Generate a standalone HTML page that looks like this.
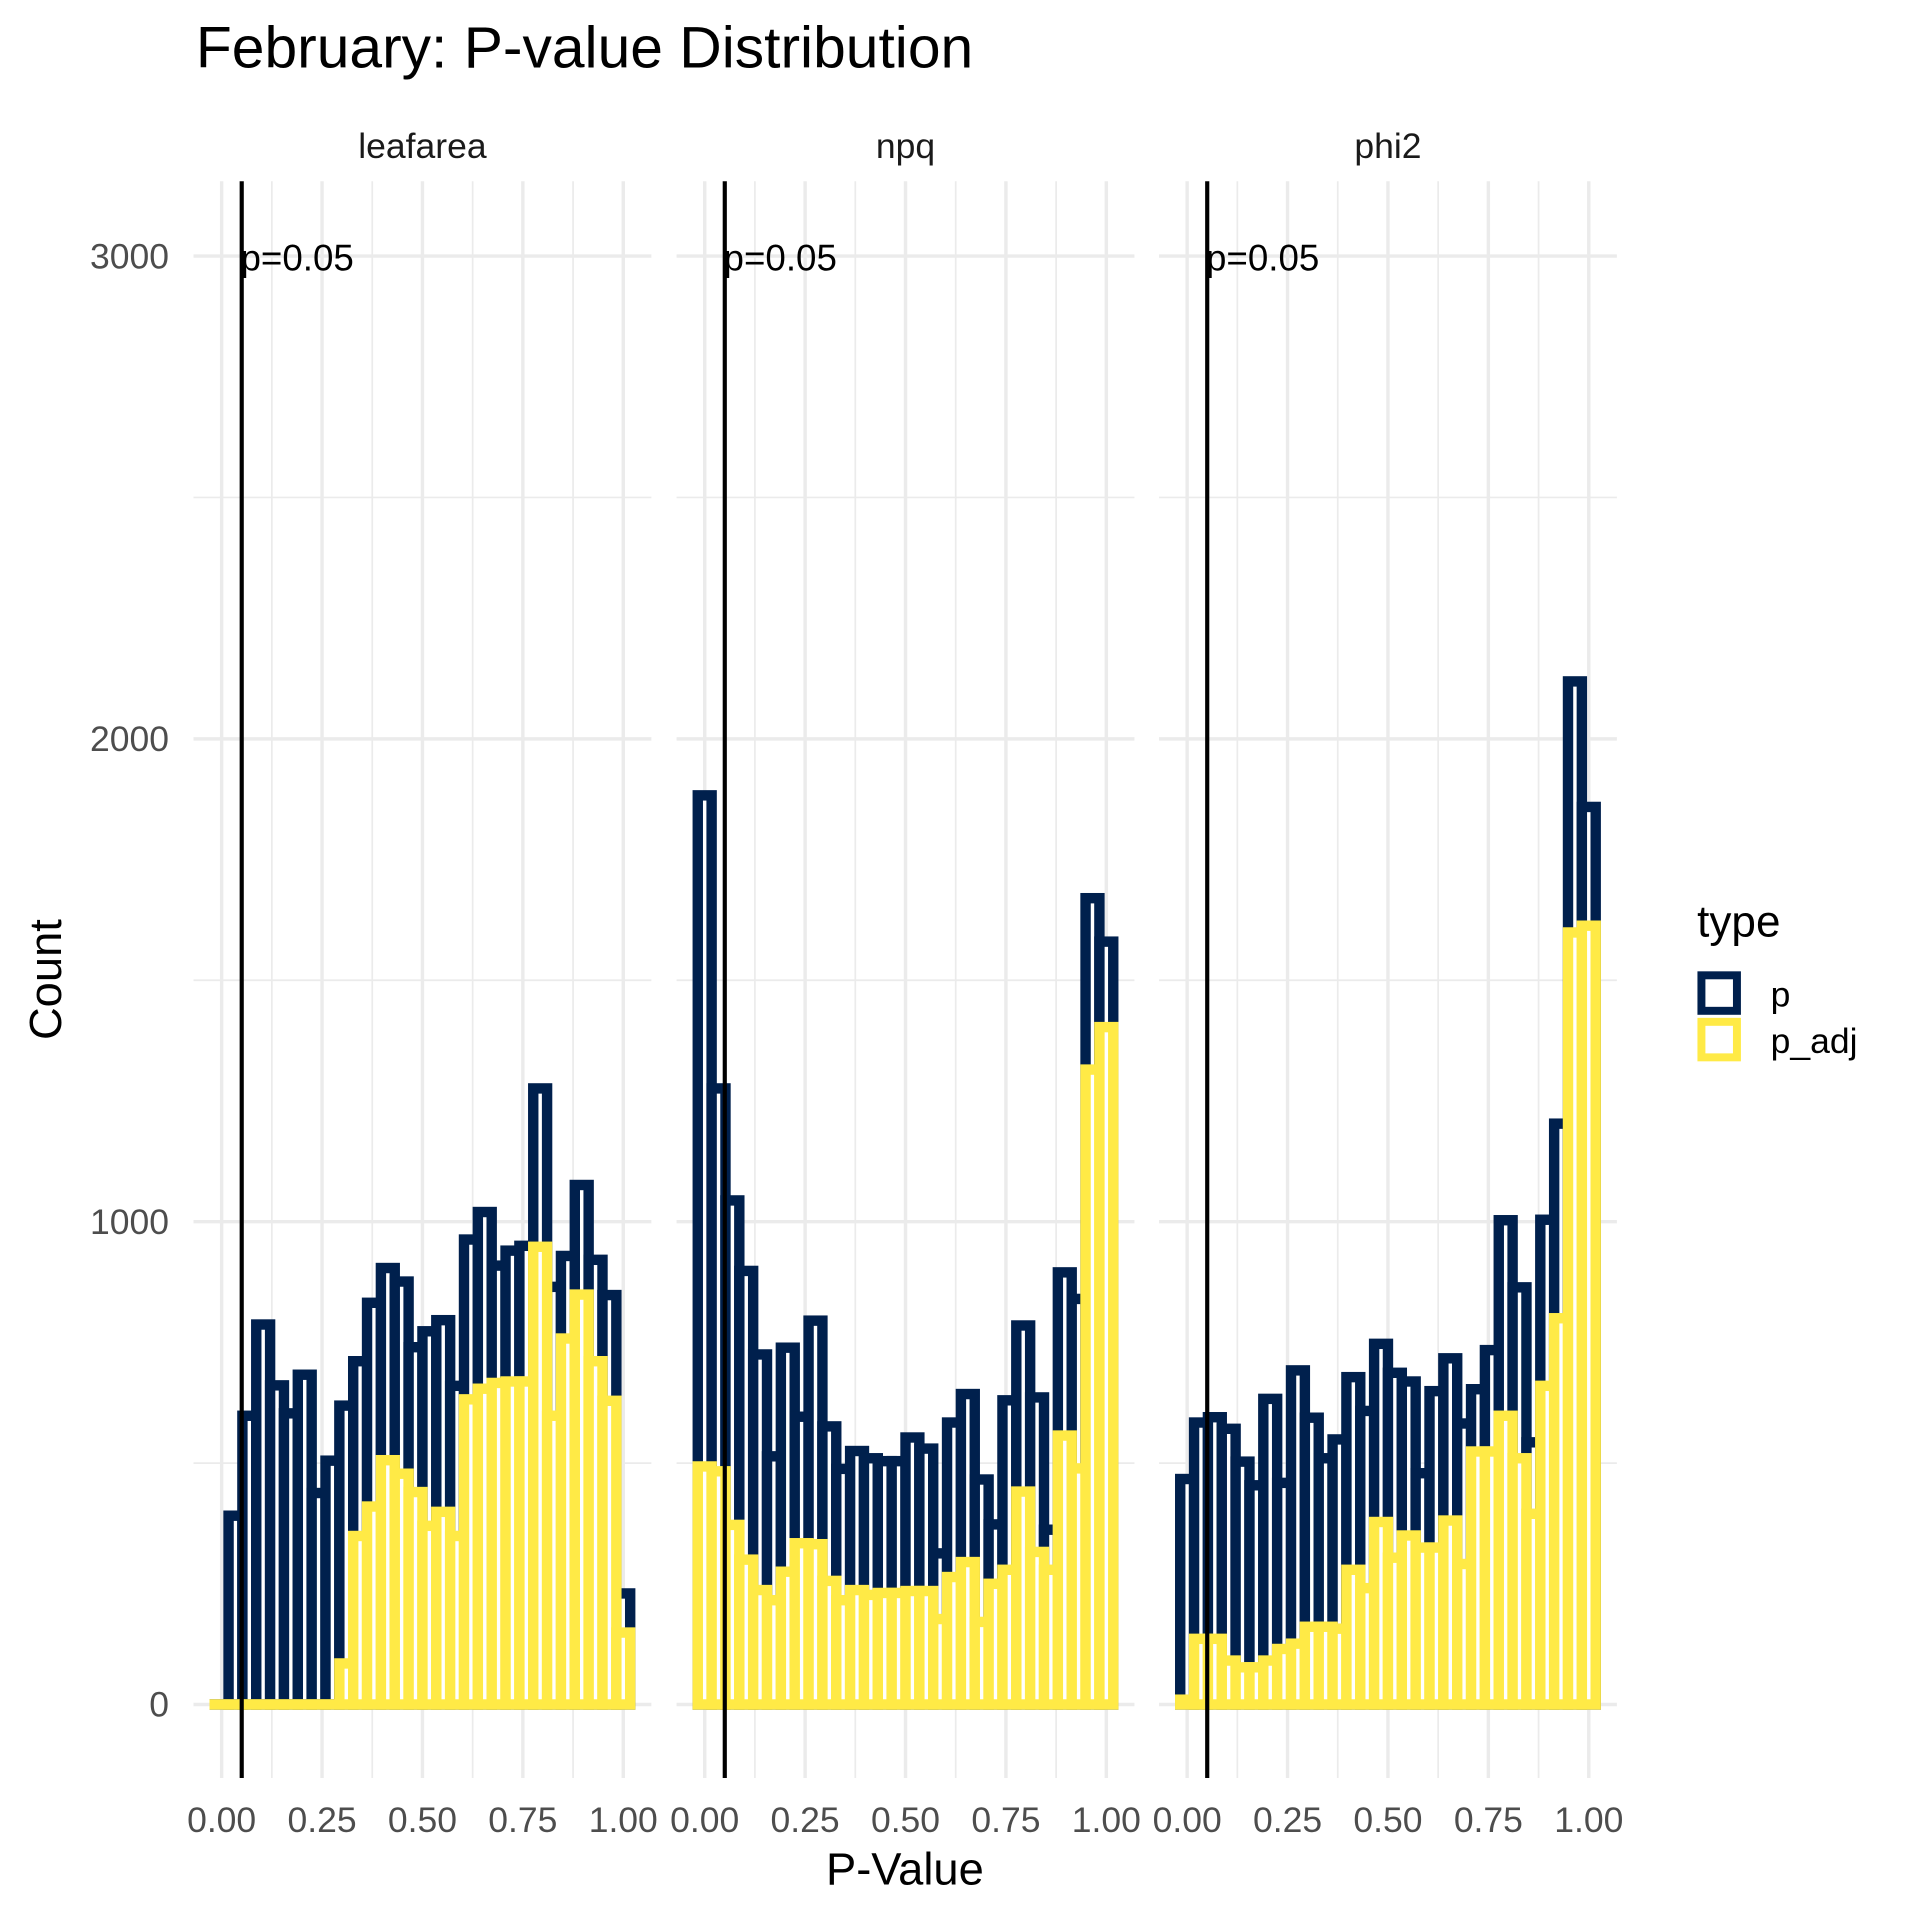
<!DOCTYPE html>
<html><head><meta charset="utf-8"><title>February: P-value Distribution</title>
<style>
html,body{margin:0;padding:0;background:#fff;}
svg{display:block;font-family:"Liberation Sans",sans-serif;}
</style></head>
<body>
<svg id="chart" width="1920" height="1920" viewBox="0 0 1568 1568" xmlns="http://www.w3.org/2000/svg">
<rect x="0" y="0" width="1568" height="1568" fill="#fff"/>
<text x="160" y="55" font-size="48" fill="#000">February: P-value Distribution</text>
<g id="grid"></g>
<g id="barsP"></g>
<g id="barsAdj"></g>
<g id="annot"></g>
<g id="axes"></g>
<text x="739" y="1539" font-size="37" text-anchor="middle" fill="#000">P-Value</text>
<text transform="translate(50,800) rotate(-90)" font-size="37" text-anchor="middle" fill="#000">Count</text>
<g>
<text x="1386" y="765" font-size="36" fill="#000">type</text>
<rect x="1389.5" y="796.5" width="29" height="29" fill="#fff" stroke="#00204D" stroke-width="6.5"/>
<text x="1446" y="822" font-size="29" fill="#000">p</text>
<rect x="1389.5" y="834.5" width="29" height="29" fill="#fff" stroke="#FFEA46" stroke-width="6.5"/>
<text x="1446" y="860" font-size="29" fill="#000">p_adj</text>
</g>
</svg>
<script>
const panels = ["leafarea", "npq", "phi2"];
const leafareaP = [0,391,598,787,661,603,683,438,505,619,711,832,904,876,740,773,796,660,963,1020,909,940,950,1276,865,929,1076,921,848,230];
const leafareaAdj = [0,0,0,0,0,0,0,0,0,85,349,410,506,478,440,370,399,349,632,654,666,669,669,948,598,758,849,711,629,149];
const npqP = [1883,1276,1044,898,725,514,739,596,795,576,488,525,510,504,504,553,530,313,584,643,466,373,630,785,636,362,895,840,1670,1580];
const npqAdj = [493,483,372,300,237,216,275,334,332,256,216,237,227,231,231,235,235,177,264,295,171,250,279,441,316,279,557,489,1315,1403];
const phi2P = [467,584,595,571,503,454,633,459,692,594,510,549,678,608,747,687,669,479,649,717,582,653,734,1003,864,543,1004,1203,2119,1859];
const phi2Adj = [10,136,136,91,77,77,91,115,126,161,161,157,279,241,378,304,350,325,325,381,291,524,524,598,510,395,660,800,1599,1613];
const xTicks = [0, 0.25, 0.5, 0.75, 1];
const xTickLabels = ["0.00", "0.25", "0.50", "0.75", "1.00"];
const xMinor = [0.125, 0.375, 0.625, 0.875];
const yTicks = [0, 1000, 2000, 3000];
const yTickLabels = ["0", "1000", "2000", "3000"];
const yMinor = [500, 1500, 2500];
const pCut = 0.05;
const nBins = 30;

const NS = "http://www.w3.org/2000/svg";
const PANEL_X0 = [181, 575.5, 969.5];
const XW = 328;
function X(p, v) { return PANEL_X0[p] + v * XW; }
function Y(v) { return 1392 - v * 0.3943; }
function mk(tag, attrs, parent) {
  const e = document.createElementNS(NS, tag);
  for (const k in attrs) e.setAttribute(k, attrs[k]);
  parent.appendChild(e);
  return e;
}
const gridG = document.getElementById("grid");
const axesG = document.getElementById("axes");
const barsPG = document.getElementById("barsP");
const barsAdjG = document.getElementById("barsAdj");
const annotG = document.getElementById("annot");
const pData = [leafareaP, npqP, phi2P];
const adjData = [leafareaAdj, npqAdj, phi2Adj];
const binW = 1 / (nBins - 1);
const yTopPx = 148, yBotPx = 1452;

panels.forEach((name, p) => {
  const xl = X(p, -0.07), xr = X(p, 1.07);
  yMinor.forEach(v => {
    const l = mk("line", {x1: xl, x2: xr, y1: Y(v), y2: Y(v), stroke: "#ebebeb", "stroke-width": 1.4}, gridG);
    
    
  });
  xMinor.forEach(v => {
    const l = mk("line", {x1: X(p, v), x2: X(p, v), y1: yTopPx, y2: yBotPx, stroke: "#ebebeb", "stroke-width": 1.4}, gridG);
    
    
  });
  yTicks.forEach(v => {
    const l = mk("line", {x1: xl, x2: xr, y1: Y(v), y2: Y(v), stroke: "#ebebeb", "stroke-width": 2.8}, gridG);
    
    
  });
  xTicks.forEach((v, i) => {
    const l = mk("line", {x1: X(p, v), x2: X(p, v), y1: yTopPx, y2: yBotPx, stroke: "#ebebeb", "stroke-width": 2.8}, gridG);
    
    
    const t = mk("text", {x: X(p, v), y: 1496, "font-size": 29, "text-anchor": "middle", fill: "#4d4d4d"}, axesG);
    t.textContent = xTickLabels[i];
    
    
  });
  const s = mk("text", {x: X(p, 0.5), y: 129, "font-size": 29, "text-anchor": "middle", fill: "#1a1a1a"}, axesG);
  s.textContent = name;
  
  

  pData[p].forEach((v, i) => {
    const c = i * binW;
    const h = Math.max(Y(0) - Y(v), 0.01);
    const r = mk("rect", {x: X(p, c - binW / 2), y: Y(0) - h, width: binW * XW, height: h, fill: "#fff", stroke: "#00204D", "stroke-width": 8.5}, barsPG);
    
    
  });
  adjData[p].forEach((v, i) => {
    const c = i * binW;
    const h = Math.max(Y(0) - Y(v), 0.01);
    const r = mk("rect", {x: X(p, c - binW / 2), y: Y(0) - h, width: binW * XW, height: h, fill: "#fff", stroke: "#FFEA46", "stroke-width": 8.5}, barsAdjG);
    
    
  });

  const vl = mk("line", {x1: X(p, pCut), x2: X(p, pCut), y1: yTopPx, y2: yBotPx, stroke: "#000", "stroke-width": 3.4}, annotG);
  
  
  const lt = mk("text", {x: X(p, pCut) - 1, y: Y(3000) + 12, "font-size": 30, fill: "#000"}, annotG);
  lt.textContent = "p=0.05";
  
  
});
yTicks.forEach((v, i) => {
  const t = mk("text", {x: 138, y: Y(v) + 10, "font-size": 29, "text-anchor": "end", fill: "#4d4d4d"}, axesG);
  t.textContent = yTickLabels[i];
  
  
});
</script>
</body></html>
